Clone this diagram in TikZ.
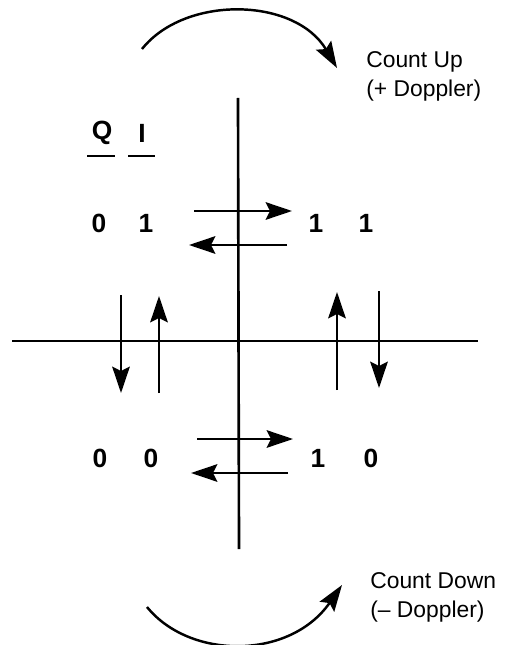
\documentclass[tikz,border=0pt]{standalone}
\usepackage{fontspec}
\setmainfont{Liberation Sans}
\usetikzlibrary{arrows.meta}
\tikzset{
  axis/.style={line width=1.5pt},
  flow/.style={line width=1.4pt, -{Stealth[length=15pt,width=10pt,inset=2.5pt]}},
  bit/.style={font=\fontsize{15}{17}\selectfont\bfseries, inner sep=0pt},
  note/.style={font=\fontsize{13}{16.5}\selectfont, align=left, anchor=west, inner sep=0pt},
}
\begin{document}
\begin{tikzpicture}[x=0.02cm, y=-0.02cm]
  \useasboundingbox (0,0) rectangle (504,645);

  % axes
  \coordinate (vtop) at (238,98);
  \coordinate (vbot) at (239,549);
  \coordinate (hleft) at (12,341);
  \coordinate (hright) at (478,341);
  \draw[axis] (vtop) -- (vbot);
  \draw[axis] (hleft) -- (hright);

  % column heads
  \node[bit] (colq) at (102,133) {Q};
  \node[bit] (coli) at (142,133) {I};
  \draw[line width=1.3pt] (87,156) -- (115,156);
  \draw[line width=1.3pt] (128,156) -- (155,156);

  % quadrant states
  \foreach \x/\y/\b [count=\k] in {99/223/0, 146/223/1, 316/223/1, 366/223/1,
                                   100/458/0, 151/458/0, 318/458/1, 371/458/0} {
    \node[bit] (b\k) at (\x,\y) {\b};
  }

  % transitions between states
  \foreach \n/\xa/\ya/\xb/\yb in {ta/194/211/292/211, tb/287/245/189/245,
                                  tc/197/439/293/439, td/288/473/191/473,
                                  te/121/295/121/393, tf/159/393/159/296,
                                  tg/337/390/337/292, th/379/291/379/388} {
    \coordinate (\n s) at (\xa,\ya);
    \coordinate (\n e) at (\xb,\yb);
    \draw[flow] (\n s) -- (\n e);
  }

  % count direction
  \coordinate (ups) at (142,49);
  \coordinate (upe) at (337,68);
  \draw[flow] (ups) .. controls (185,-5) and (295,-3) .. (upe);
  \node[note] (up) at (366,76) {Count Up\\(+ Doppler)};

  \coordinate (dns) at (147,607);
  \coordinate (dne) at (342,585);
  \draw[flow] (dns) .. controls (190,660) and (290,660) .. (dne);
  \node[note] (dn) at (370,597) {Count Down\\(– Doppler)};
\end{tikzpicture}
\end{document}
